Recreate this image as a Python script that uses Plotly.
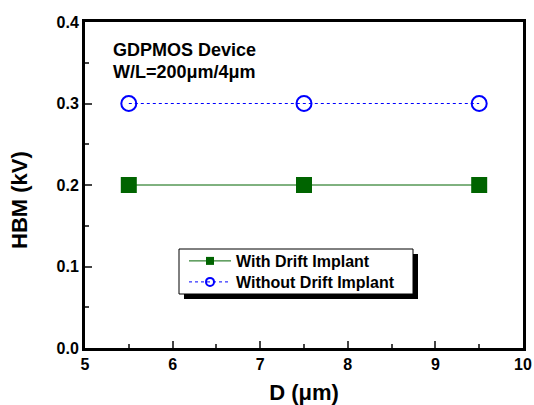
import plotly.graph_objects as go

d_values = [5.5, 7.5, 9.5]
hbm_with = [0.2, 0.2, 0.2]
hbm_without = [0.3, 0.3, 0.3]
name_with = "With Drift Implant"
name_without = "Without Drift Implant"
x_title = "D (μm)"
y_title = "HBM (kV)"
note_lines = ["GDPMOS Device", "W/L=200μm/4μm"]

FONT = "Liberation Sans, Arial, sans-serif"
GREEN = "#006400"
BLUE = "#0000FF"

fig = go.Figure()
# data traces (legend entries drawn by small-marker proxies below)
fig.add_trace(go.Scatter(
    x=d_values, y=hbm_with, mode="lines+markers", name=name_with, showlegend=False,
    line=dict(color=GREEN, width=1),
    marker=dict(symbol="square", size=16, color=GREEN),
))
fig.add_trace(go.Scatter(
    x=d_values, y=hbm_without, mode="lines+markers", name=name_without, showlegend=False,
    line=dict(color=BLUE, width=1, dash="dot"),
    marker=dict(symbol="circle-open", size=15, color=BLUE, line=dict(width=2)),
))
fig.add_trace(go.Scatter(
    x=[None], y=[None], mode="lines+markers", name=name_with, legend="legend",
    line=dict(color=GREEN, width=1),
    marker=dict(symbol="square", size=8, color=GREEN),
))
fig.add_trace(go.Scatter(
    x=[None], y=[None], mode="lines+markers", name=name_without, legend="legend2",
    line=dict(color=BLUE, width=1, dash="dot"),
    marker=dict(symbol="circle-open", size=8, color=BLUE, line=dict(width=2)),
))

L, R, T, B = 85, 523, 22, 348
W, H = R - L, B - T
def px(x): return (x - L) / W
def py(y): return (B - y) / H

# legend frame with drop shadow
bx0, bx1, by0, by1 = 179, 413, 249, 294
sh = 5
fig.add_shape(type="rect", xref="paper", yref="paper",
              x0=px(bx0 + sh), x1=px(bx1 + sh), y0=py(by1 + sh), y1=py(by0 + sh),
              fillcolor="black", line=dict(width=0), layer="above")
fig.add_shape(type="rect", xref="paper", yref="paper",
              x0=px(bx0), x1=px(bx1), y0=py(by1), y1=py(by0),
              fillcolor="white", line=dict(color="black", width=1), layer="above")

fig.add_annotation(xref="paper", yref="paper", x=px(111), y=py(50),
                   xanchor="left", yanchor="middle", showarrow=False,
                   text="<b>" + note_lines[0] + "</b>",
                   font=dict(family=FONT, size=18, color="black"))
fig.add_annotation(xref="paper", yref="paper", x=px(111), y=py(71.5),
                   xanchor="left", yanchor="middle", showarrow=False,
                   text="<b>" + note_lines[1] + "</b>",
                   font=dict(family=FONT, size=18, color="black"))
fig.add_annotation(xref="paper", yref="paper", x=px(19), y=py(200),
                   xanchor="center", yanchor="middle", showarrow=False, textangle=-90,
                   text="<b>" + y_title + "</b>",
                   font=dict(family=FONT, size=22, color="black"))

legend_common = dict(xanchor="left", yanchor="top", bgcolor="rgba(0,0,0,0)", borderwidth=0,
                     font=dict(family=FONT, size=16, color="black", weight="bold"),
                     tracegroupgap=0, itemwidth=42)

fig.update_layout(
    width=534, height=405,
    margin=dict(l=L, r=534 - R, t=T, b=405 - B, pad=0),
    paper_bgcolor="white", plot_bgcolor="white",
    font=dict(family=FONT, color="black"),
    showlegend=True,
    legend=dict(x=px(184), y=py(244), **legend_common),
    legend2=dict(x=px(184), y=py(265), **legend_common),
    xaxis=dict(range=[5, 10], dtick=1, tick0=5, ticks="inside", ticklen=7, tickwidth=2,
               showline=True, linewidth=3, linecolor="black", mirror=True,
               showgrid=False, zeroline=False, automargin=False,
               minor=dict(dtick=0.5, ticks="inside", ticklen=4, tickwidth=2, showgrid=False),
               tickfont=dict(family=FONT, size=16, weight="bold"),
               title=dict(text="<b>" + x_title + "</b>", font=dict(family=FONT, size=22), standoff=13)),
    yaxis=dict(range=[0, 0.4], dtick=0.1, tick0=0, ticks="inside", ticklen=7, tickwidth=2,
               tickformat=".1f",
               showline=True, linewidth=3, linecolor="black", mirror=True,
               showgrid=False, zeroline=False, automargin=False,
               minor=dict(dtick=0.05, ticks="inside", ticklen=4, tickwidth=2, showgrid=False),
               tickfont=dict(family=FONT, size=16, weight="bold")),
)

fig.write_html("out.html", config={"displayModeBar": False},
               post_script="document.body.style.margin='0';document.body.style.padding='0';")
